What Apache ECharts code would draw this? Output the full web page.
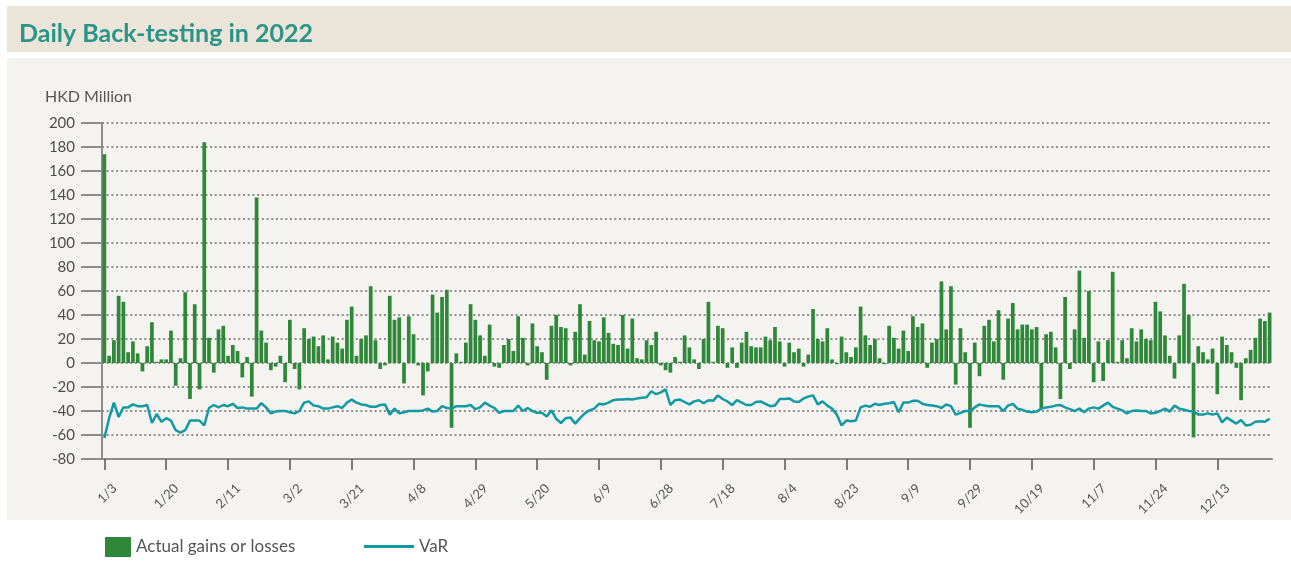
<!DOCTYPE html>
<html>
<head>
<meta charset="utf-8">
<script src="https://cdn.jsdelivr.net/npm/echarts/dist/echarts.min.js"></script>
<style>
html,body{margin:0;padding:0;background:#ffffff;}
#chart{width:1291px;height:562px;}
</style>
</head>
<body>
<div id="chart"></div>
<script>
// Trading days of 2022 (category axis)
const categories = [
'1/3','1/4','1/5','1/6','1/7','1/10','1/11','1/12','1/13','1/14','1/17','1/18','1/19','1/20','1/21','1/24','1/25','1/26','1/27','1/28','1/31',
'2/4','2/7','2/8','2/9','2/10','2/11','2/14','2/15','2/16','2/17','2/18','2/21','2/22','2/23','2/24','2/25','2/28',
'3/1','3/2','3/3','3/4','3/7','3/8','3/9','3/10','3/11','3/14','3/15','3/16','3/17','3/18','3/21','3/22','3/23','3/24','3/25','3/28','3/29','3/30','3/31',
'4/1','4/4','4/6','4/7','4/8','4/11','4/12','4/13','4/14','4/19','4/20','4/21','4/22','4/25','4/26','4/27','4/28','4/29',
'5/3','5/4','5/5','5/6','5/10','5/11','5/12','5/13','5/16','5/17','5/18','5/19','5/20','5/23','5/24','5/25','5/26','5/27','5/30','5/31',
'6/1','6/2','6/6','6/7','6/8','6/9','6/10','6/13','6/14','6/15','6/16','6/17','6/20','6/21','6/22','6/23','6/24','6/27','6/28','6/29','6/30',
'7/4','7/5','7/6','7/7','7/8','7/11','7/12','7/13','7/14','7/15','7/18','7/19','7/20','7/21','7/22','7/25','7/26','7/27','7/28','7/29',
'8/1','8/2','8/3','8/4','8/5','8/8','8/9','8/10','8/11','8/12','8/15','8/16','8/17','8/18','8/19','8/22','8/23','8/24','8/25','8/26','8/29','8/30','8/31',
'9/1','9/2','9/5','9/6','9/7','9/8','9/9','9/13','9/14','9/15','9/16','9/19','9/20','9/21','9/22','9/23','9/26','9/27','9/28','9/29','9/30',
'10/3','10/5','10/6','10/7','10/10','10/11','10/12','10/13','10/14','10/17','10/18','10/19','10/20','10/21','10/24','10/25','10/26','10/27','10/28','10/31',
'11/1','11/2','11/3','11/4','11/7','11/8','11/9','11/10','11/11','11/14','11/15','11/16','11/17','11/18','11/21','11/22','11/23','11/24','11/25','11/28','11/29','11/30',
'12/1','12/2','12/5','12/6','12/7','12/8','12/9','12/12','12/13','12/14','12/15','12/16','12/19','12/20','12/21','12/22','12/23','12/28','12/29','12/30'
];

// Tick labels shown on the x axis
const xTickLabels = ['1/3','1/20','2/11','3/2','3/21','4/8','4/29','5/20','6/9','6/28','7/18','8/4','8/23','9/9','9/29','10/19','11/7','11/24','12/13'];

// Actual gains or losses (HKD Million)
const actualGainsLosses = [
174,6,19,56,51,9,18,8,-7,14,34,1,3,3,27,-19,4,59,-30,49,-22,184,21,-8,28,31,6,15,10,-12,5,-28,138,27,
17,-6,-3,6,-16,36,-5,-22,29,20,22,14,23,3,22,17,12,36,47,6,20,23,64,19,-5,-2,56,36,38,-17,39,24,-2,-27,-7,57,42,55,61,-54,8,1,17,49,
36,23,6,32,-3,-4,15,20,10,39,21,-2,33,14,9,-14,31,40,30,29,-2,26,49,7,35,19,18,38,25,16,15,40,12,37,4,3,19,15,26,-2,-6,-8,5,1,
23,13,3,-5,20,51,1,31,29,-4,13,-4,17,26,14,13,13,22,19,30,18,-3,17,9,12,-3,7,45,20,18,29,3,-1,22,9,5,13,47,23,15,20,4,-1,31,
21,12,27,10,39,30,33,-4,17,20,68,28,64,-18,29,9,-54,17,-11,31,36,18,44,-14,37,50,28,32,32,28,30,-38,24,26,13,-30,55,-5,28,77,
21,60,-16,18,-15,19,76,1,19,4,29,18,28,20,19,51,43,23,6,-13,23,66,40,-62,14,9,3,12,-26,22,15,9,-4,-31,4,11,21,37,35,42
];

// VaR (HKD Million)
const varValues = [
-62.5,-46,-33,-45,-37,-37,-34.5,-36,-36,-35,-50,-42.5,-49,-46,-48,-56,-58,-56,-48,-48,-48,-52,-37.5,-35,-37,-35,-36,-34,-37.5,-37,-38,-38,-38,-33.5,
-37,-42,-40.5,-40,-40,-41,-42,-40,-33,-32,-35.5,-36,-38,-38,-37,-36,-37.5,-33,-30.5,-33,-34.5,-35,-36.5,-36.5,-35,-34.5,-43,-38,-42,-41,-40,-40,-40,-39.5,-38,-40.5,-40,-36,-37.5,-38,-36,-36,-36,-35,
-38.5,-37,-33,-35.5,-37.5,-41.5,-40,-40,-40,-35.5,-40,-37.5,-40,-41.5,-41.5,-44.5,-39.5,-46.5,-50,-46,-45.5,-50.5,-46,-42,-39.5,-38,-34,-34.5,-33,-31,-30.5,-30.5,-30,-30.5,-29.5,-29,-28.5,-23.5,-26,-24.5,-22,-35,-31,-30.5,
-32.5,-34.5,-32,-31,-33.5,-31,-31.5,-27,-30,-32,-35,-31,-33,-35,-35,-32.5,-32,-34,-36,-35.5,-30,-30,-29.5,-32,-32.5,-29.5,-28,-27,-34.5,-32,-35.5,-38,-43,-52,-48,-48.5,-48,-37,-35.5,-36.5,-34,-35,-34,-33.5,
-32.5,-41,-33,-33,-31.5,-31.5,-34,-35,-35.5,-36,-37.5,-34.5,-36,-43,-41.5,-40,-40,-37,-34.5,-35.5,-36,-36,-36,-40,-35.5,-34,-38,-39,-40.5,-41,-40.5,-38,-37,-36.5,-35.5,-35,-37,-38.5,-40,-38,
-41,-38,-37,-38,-35.5,-33,-36.5,-38,-39.5,-42,-40,-39.5,-40,-40,-42,-41.5,-40,-38,-40.5,-35.5,-38,-39,-40,-40.5,-43,-43,-42,-43,-42,-49.5,-45.5,-48,-50.5,-47.5,-52,-51.5,-49,-48.5,-49,-46.5
];

const yMin = -80, yMax = 200, yStep = 20;

const showTick = function (idx, val) { return xTickLabels.indexOf(val) !== -1; };

const chart = echarts.init(document.getElementById('chart'), null, {renderer: 'canvas'});
chart.setOption({
  animation: false,
  backgroundColor: '#ffffff',
  textStyle: {fontFamily: 'Lato'},
  graphic: [
    {type: 'rect', z: -10, shape: {x: 7, y: 6, width: 1284, height: 46}, style: {fill: '#ebe4d9'}},
    {type: 'rect', z: -10, shape: {x: 7, y: 58, width: 1284, height: 462}, style: {fill: '#f4f3ef'}}
  ],
  title: [
    {text: 'Daily Back-testing in 2022', left: 19, top: 21, padding: 0,
     textStyle: {fontFamily: 'Lato', fontWeight: 'bold', fontSize: 25, color: '#2a9488'}},
    {text: 'HKD Million', left: 45, top: 89, padding: 0,
     textStyle: {fontFamily: 'Lato', fontWeight: 'normal', fontSize: 16, color: '#555555'}}
  ],
  legend: [
    {data: ['Actual gains or losses'], left: 105, top: 537, padding: 0, itemGap: 0,
     itemWidth: 26, itemHeight: 20, icon: 'rect', selectedMode: false,
     textStyle: {fontFamily: 'Lato', fontSize: 17, color: '#555555'}},
    {data: ['VaR'], left: 364, top: 538, padding: 0, itemGap: 0,
     itemWidth: 50, itemHeight: 3, icon: 'rect', selectedMode: false,
     textStyle: {fontFamily: 'Lato', fontSize: 17, color: '#555555'}}
  ],
  grid: {left: 102, top: 123, width: 1170, height: 336, containLabel: false},
  xAxis: {
    type: 'category',
    data: categories,
    boundaryGap: true,
    axisLine: {onZero: false, lineStyle: {color: '#8c8c8c', width: 2}},
    axisTick: {show: true, alignWithLabel: true, interval: showTick, length: 11,
               lineStyle: {color: '#555555', width: 1.5}},
    axisLabel: {interval: showTick, rotate: 45, margin: 17, fontSize: 13, color: '#555555',
                fontFamily: 'Lato', verticalAlign: 'top', padding: [8, 0, 0, 0]},
    splitLine: {show: false}
  },
  yAxis: {
    type: 'value',
    min: yMin, max: yMax, interval: yStep,
    axisLine: {show: true, lineStyle: {color: '#8c8c8c', width: 2}},
    axisTick: {show: true, length: 21, lineStyle: {color: '#8c8c8c', width: 2}},
    axisLabel: {fontSize: 15, color: '#4d4d4d', margin: 27, fontFamily: 'Lato'},
    splitLine: {show: true, lineStyle: {type: [2, 2.7], color: '#6d6d6d', width: 1.5}}
  },
  series: [
    {name: 'Actual gains or losses', type: 'bar', data: actualGainsLosses,
     barCategoryGap: '22%', itemStyle: {color: '#2f8739'}},
    {name: 'VaR', type: 'line', data: varValues, symbol: 'none', showSymbol: false,
     lineStyle: {color: '#1399a6', width: 2.5}, itemStyle: {color: '#1399a6'}, z: 3}
  ]
});
</script>
</body>
</html>
